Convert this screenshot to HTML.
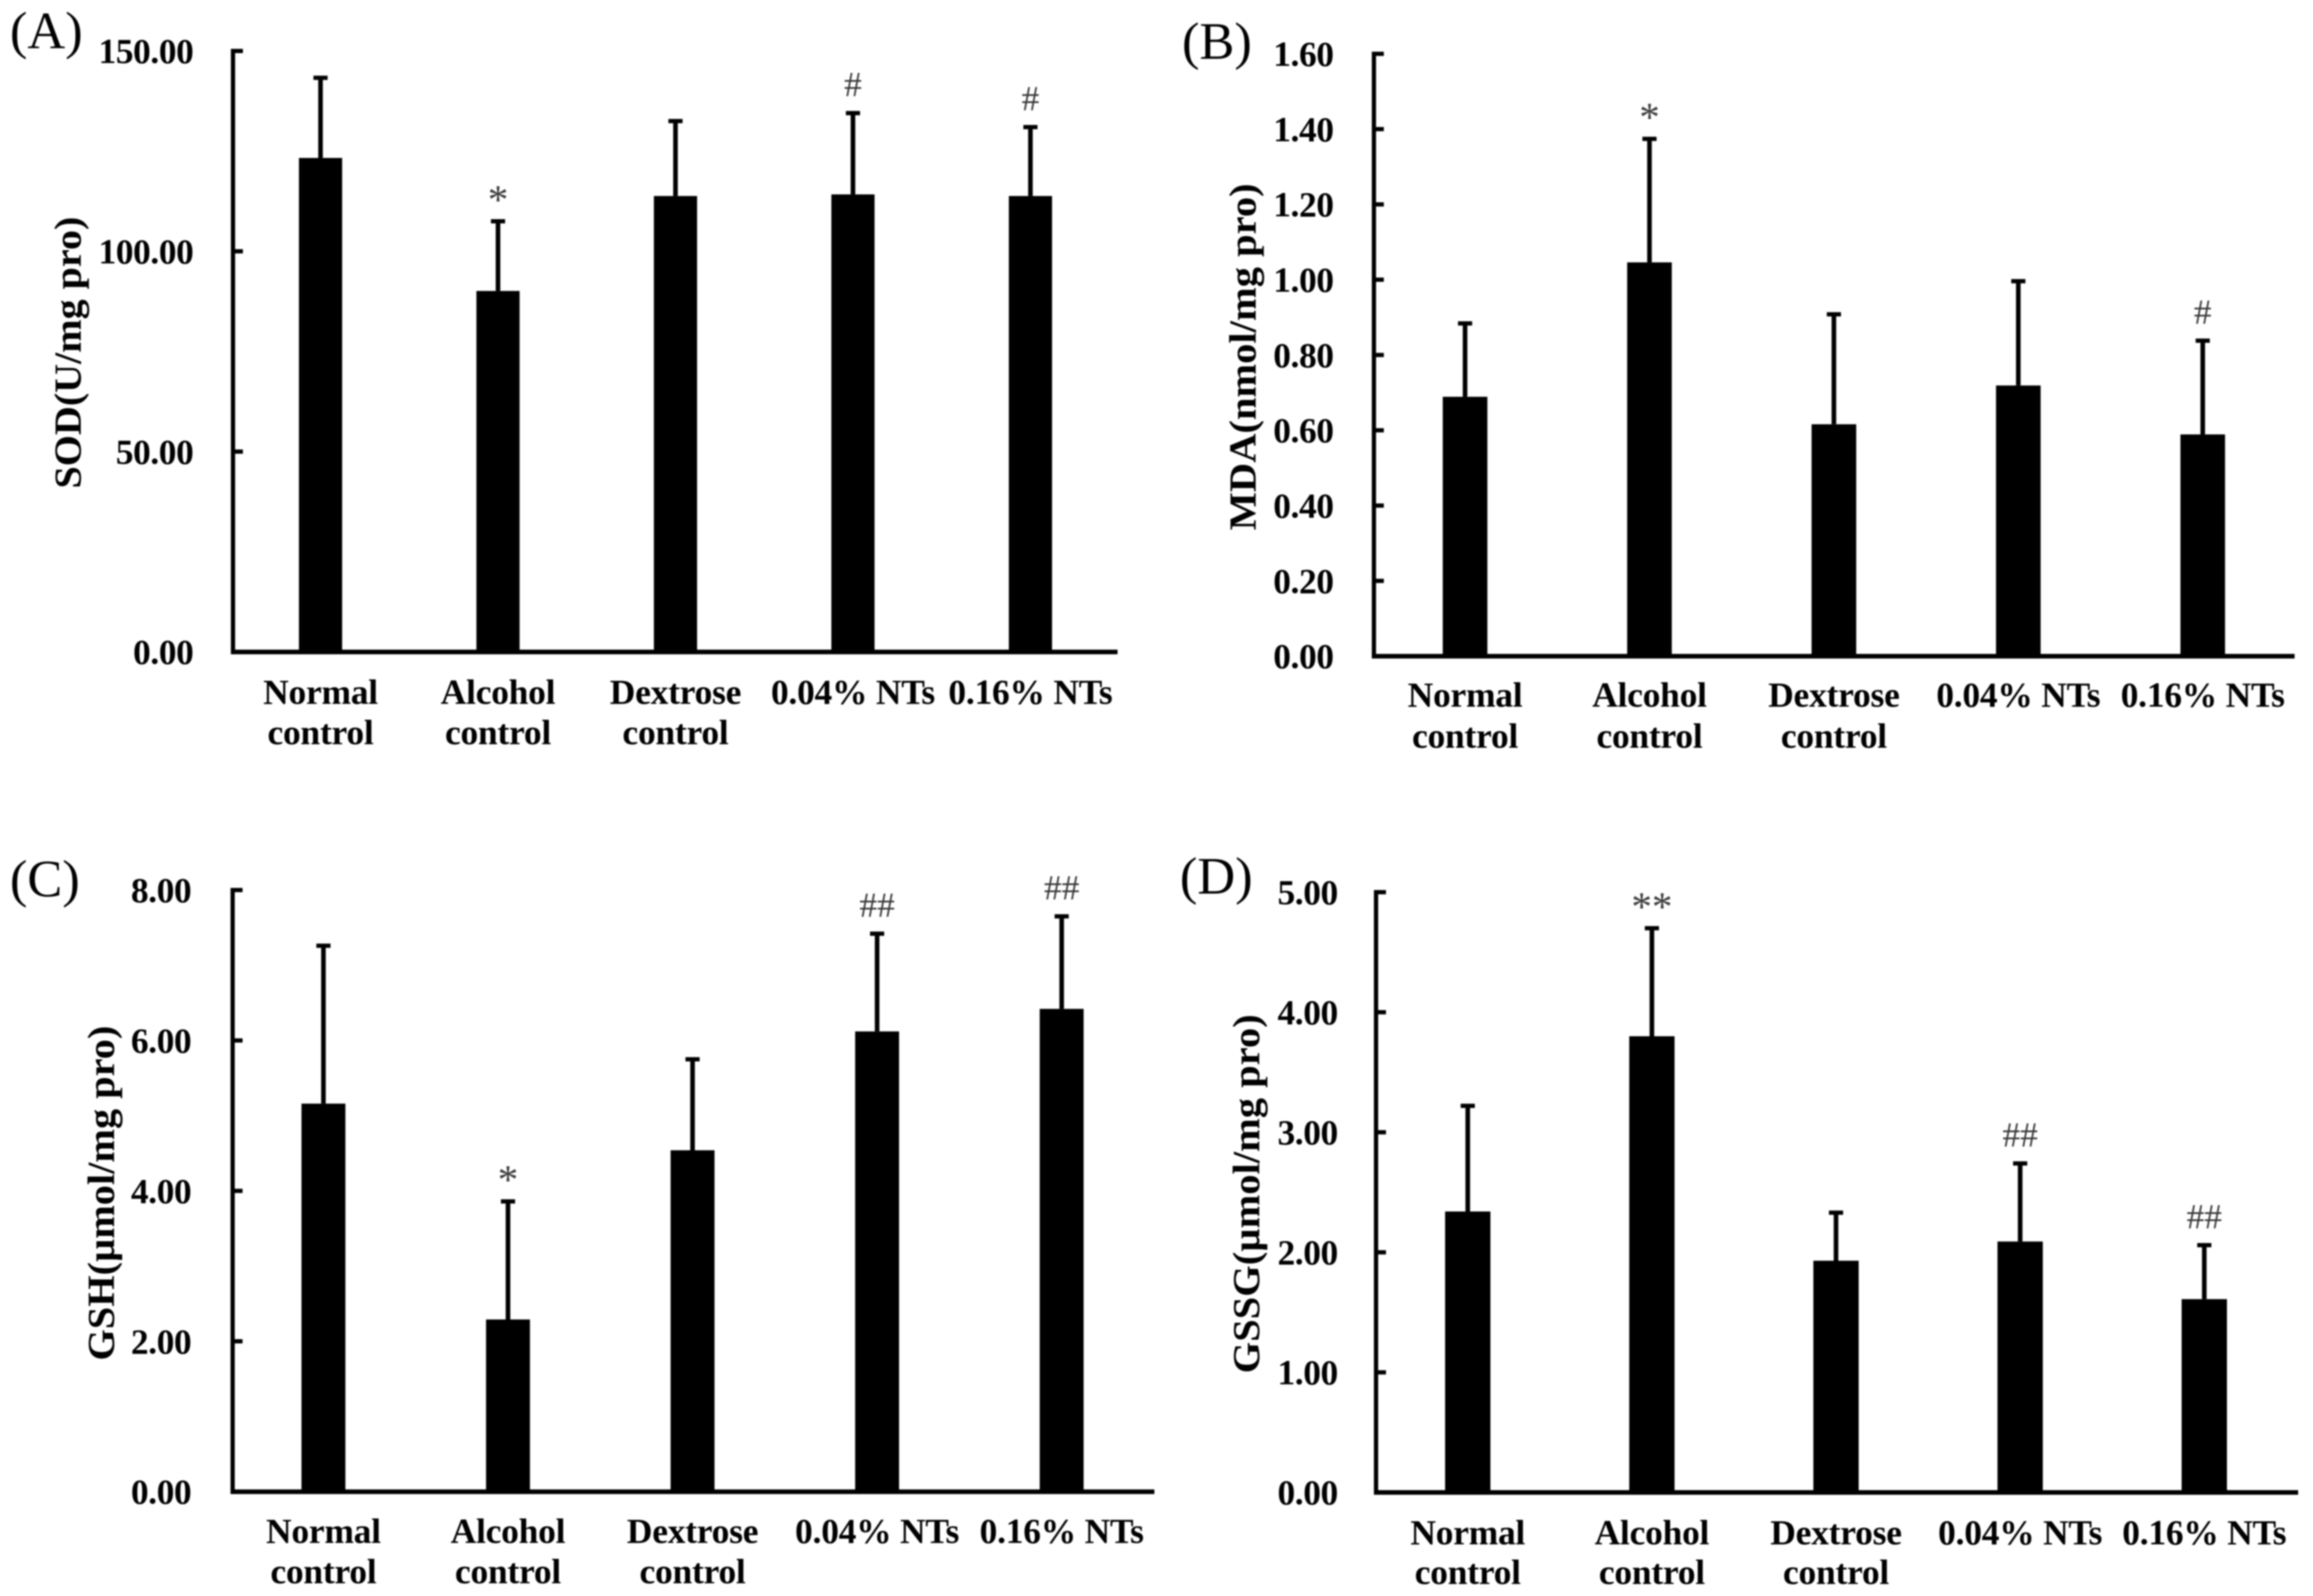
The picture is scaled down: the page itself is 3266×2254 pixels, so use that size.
<!DOCTYPE html>
<html lang="en">
<head>
<meta charset="utf-8">
<title>Oxidative stress markers</title>
<style>
html,body{margin:0;padding:0;background:#fff;width:3266px;height:2254px;overflow:hidden}
#figure{display:block;filter:blur(1.1px)}
text{font-family:"Liberation Serif",serif;fill:#000}
.tick{font-size:50px;font-weight:bold;letter-spacing:-0.6px;text-anchor:end}
.cat{font-size:50px;font-weight:bold;letter-spacing:-0.3px;text-anchor:middle}
.ytitle{font-size:54px;font-weight:bold;text-anchor:middle}
.panel{font-size:74px}
.mark-hash{font-size:50px;text-anchor:middle;fill:#3a3a3a}
.mark-star{font-size:58px;text-anchor:middle;fill:#3a3a3a}
</style>
</head>
<body>
<svg id="figure" xmlns="http://www.w3.org/2000/svg" width="3266" height="2254" viewBox="0 0 3266 2254"></svg>
<script>
// Data
const categoryFirstLines = ["Normal", "Alcohol", "Dextrose", "0.04% NTs", "0.16% NTs"];
const categorySecondLines = ["control", "control", "control", "", ""];

const sodMeans = [123.3, 90.1, 113.8, 114.2, 113.8];
const sodUpper = [143.3, 107.5, 132.5, 134.5, 131.0];
const sodMarks = ["", "*", "", "#", "#"];
const sodTicks = [0, 50, 100, 150];

const mdaMeans = [0.689, 1.046, 0.616, 0.719, 0.589];
const mdaUpper = [0.884, 1.374, 0.908, 0.996, 0.838];
const mdaMarks = ["", "*", "", "", "#"];
const mdaTicks = [0, 0.2, 0.4, 0.6, 0.8, 1.0, 1.2, 1.4, 1.6];

const gshMeans = [5.16, 2.29, 4.54, 6.12, 6.42];
const gshUpper = [7.26, 3.86, 5.75, 7.42, 7.65];
const gshMarks = ["", "*", "", "##", "##"];
const gshTicks = [0, 2, 4, 6, 8];

const gssgMeans = [2.34, 3.80, 1.93, 2.09, 1.61];
const gssgUpper = [3.22, 4.70, 2.33, 2.74, 2.06];
const gssgMarks = ["", "**", "", "##", "##"];
const gssgTicks = [0, 1, 2, 3, 4, 5];

const panels = [
  {id:"a", label:"(A)", labelX:14, labelY:68, title:"SOD(U/mg pro)", titleX:114, titleY:498, titleLen:384,
   means:sodMeans, upper:sodUpper, marks:sodMarks, ticks:sodTicks, barWidth:61,
   left:329, right:1578, y0:920.7, yTop:72, first:452.6, step:250.6, tickRight:273, cat1:994, cat2:1051},
  {id:"b", label:"(B)", labelX:1669, labelY:83, title:"MDA(nmol/mg pro)", titleX:1773, titleY:504, titleLen:490,
   means:mdaMeans, upper:mdaUpper, marks:mdaMarks, ticks:mdaTicks, barWidth:63,
   left:1940, right:3240, y0:926.7, yTop:76, first:2068.7, step:260.4, tickRight:1883, cat1:998, cat2:1056},
  {id:"c", label:"(C)", labelX:14, labelY:1266, title:"GSH(\u00b5mol/mg pro)", titleX:161, titleY:1685, titleLen:473,
   means:gshMeans, upper:gshUpper, marks:gshMarks, ticks:gshTicks, barWidth:62,
   left:328.5, right:1630, y0:2106.7, yTop:1257, first:456.7, step:260.6, tickRight:270, cat1:2179, cat2:2236},
  {id:"d", label:"(D)", labelX:1666, labelY:1262, title:"GSSG(\u00b5mol/mg pro)", titleX:1778, titleY:1686, titleLen:507,
   means:gssgMeans, upper:gssgUpper, marks:gssgMarks, ticks:gssgTicks, barWidth:64,
   left:1943, right:3245, y0:2107.7, yTop:1260, first:2072.5, step:260, tickRight:1889, cat1:2181, cat2:2237}
];

const NS = "http://www.w3.org/2000/svg";
const svg = document.getElementById("figure");

function make(tag, parent, attrs, content) {
  const el = document.createElementNS(NS, tag);
  for (const k in attrs) el.setAttribute(k, attrs[k]);
  if (content !== undefined) el.textContent = content;
  parent.appendChild(el);
  return el;
}

panels.forEach(function (p) {
  const maxTick = p.ticks[p.ticks.length - 1];
  const yScale = function (v) { return p.y0 - (v / maxTick) * (p.y0 - p.yTop); };
  const xScale = function (i) { return p.first + i * p.step; };

  const g = make("g", svg, {});
  
  

  const lab = make("text", g, {x:p.labelX, y:p.labelY, class:"panel"}, p.label);
  
  

  const title = make("text", g, {
    class:"ytitle", x:0, y:0,
    transform:"translate(" + p.titleX + "," + p.titleY + ") rotate(-90)",
    textLength:p.titleLen, lengthAdjust:"spacingAndGlyphs"
  }, p.title);
  
  

  p.means.forEach(function (m, i) {
    const cx = xScale(i);
    const top = yScale(m);
    const errTop = yScale(p.upper[i]);

    const err = make("line", g, {x1:cx, x2:cx, y1:top, y2:errTop, stroke:"#000", "stroke-width":6.5});
    
    

    const cap = make("line", g, {x1:cx - 10, x2:cx + 10, y1:errTop, y2:errTop, stroke:"#000", "stroke-width":6});
    
    

    const bar = make("rect", g, {x:cx - p.barWidth / 2, y:top, width:p.barWidth, height:p.y0 - top, fill:"#000"});
    
    

    const symbol = p.marks[i];
    if (symbol) {
      const isStar = symbol.charAt(0) === "*";
      const markY = isStar ? errTop - 38 + 27 : errTop - 41 + 17;
      const sig = make("text", g, {x:cx, y:markY, class:isStar ? "mark-star" : "mark-hash"}, symbol);
      
      
    }

    const c1 = make("text", g, {x:cx, y:p.cat1, class:"cat"}, categoryFirstLines[i]);
    
    
    if (categorySecondLines[i]) {
      const c2 = make("text", g, {x:cx, y:p.cat2, class:"cat"}, categorySecondLines[i]);
      
      
    }
  });

  const yAxis = make("line", g, {x1:p.left, x2:p.left, y1:p.yTop - 3, y2:p.y0 + 3, stroke:"#000", "stroke-width":6});
  
  

  const xAxis = make("line", g, {x1:p.left - 3, x2:p.right, y1:p.y0, y2:p.y0, stroke:"#000", "stroke-width":6.5});
  
  

  p.ticks.forEach(function (t) {
    const y = yScale(t);
    const tm = make("line", g, {x1:p.left, x2:p.left + 14, y1:y, y2:y, stroke:"#000", "stroke-width":6});
    
    

    const tl = make("text", g, {x:p.tickRight, y:y + 17, class:"tick"}, t.toFixed(2));
    
    
  });
});
</script>
</body>
</html>
